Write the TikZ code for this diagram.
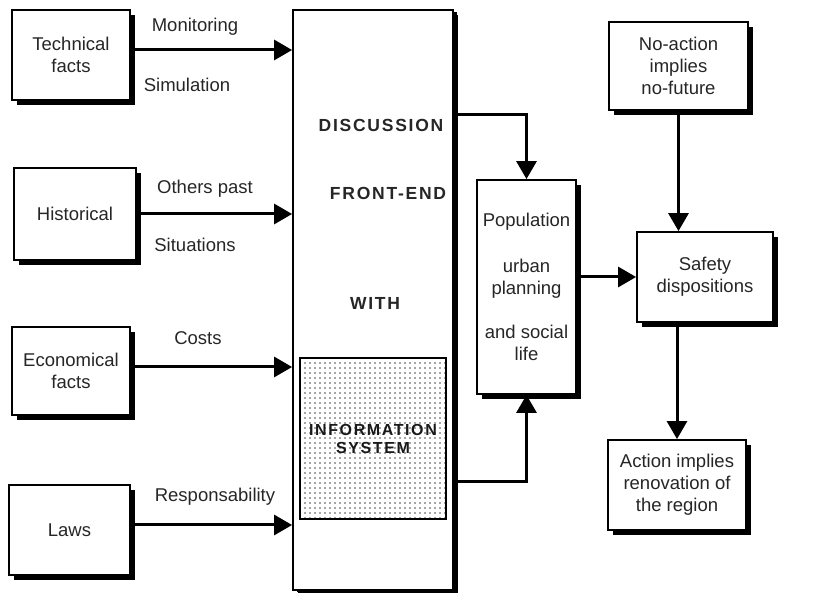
\documentclass[tikz,border=0pt]{standalone}
\usepackage{fontspec}
\setmainfont{Liberation Sans}
\newfontfamily\spacedfont[LetterSpace=10]{Liberation Sans}
\usetikzlibrary{arrows.meta,shadows,patterns.meta}
\tikzstyle{box}=[draw, line width=1.8pt, fill=white, align=center, inner sep=0pt,
  drop shadow={shadow xshift=5pt, shadow yshift=-5pt, fill=black, opacity=1}]
\tikzstyle{arr}=[line width=3pt, -{Triangle[length=18pt, width=20pt]}]
\tikzstyle{lbl}=[inner sep=0pt]
\tikzstyle{caps}=[font=\spacedfont\bfseries\fontsize{17.5}{21}\selectfont, inner sep=0pt]

\begin{document}
\begin{tikzpicture}[x=1pt, y=-1pt, font=\fontsize{18.5}{22}\selectfont, text=black!85]
\useasboundingbox (0,0) rectangle (815,593);
% Sources
    \node[box, minimum width=118pt, minimum height=90pt] (tech) at (71,55) {Technical\\facts};
    \node[box, minimum width=122pt, minimum height=92pt] (hist) at (75,214) {Historical};
    \node[box, minimum width=118pt, minimum height=88pt] (econ) at (71,371) {Economical\\facts};
    \node[box, minimum width=121pt, minimum height=90pt] (laws) at (69.5,530) {Laws};
% Front-end
    \node[box, minimum width=160pt, minimum height=580pt,
      drop shadow={shadow xshift=4pt, shadow yshift=-2pt, fill=black, opacity=1}] (front) at (373,300) {};
    \node[caps] (discussion) at (381,125) {DISCUSSION};
    \node[caps] (frontend) at (388,193) {FRONT-END};
    \node[caps] (with) at (375,303) {WITH};
    \node[draw, line width=1.8pt, pattern={Dots[distance=5pt, radius=0.8pt]}, pattern color=black!70,
      minimum width=146pt, minimum height=161pt, align=center, inner sep=0pt, text=black!90,
      font=\spacedfont\bfseries\fontsize{16}{18}\selectfont] (info) at (373,438.5) {INFORMATION\\SYSTEM};
% Results
    \node[box, minimum width=99pt, minimum height=214pt] (popu) at (526.5,287)
      {Population\\[24pt]urban\\planning\\[22pt]and social\\life};
    \node[box, minimum width=139pt, minimum height=88pt] (noact) at (678.5,66) {No-action\\implies\\no-future};
    \node[box, minimum width=136pt, minimum height=90pt] (safety) at (705,277) {Safety\\dispositions};
    \node[box, minimum width=138pt, minimum height=90pt] (action) at (677,485) {Action implies\\renovation of\\the region};
% Inputs
    \draw[arr] ([yshift=5pt]tech.east) -- ([yshift=5pt]tech.east -| front.west);
    \draw[arr] (hist.east) -- (hist.east -| front.west);
    \draw[arr] ([yshift=4pt]econ.east) -- ([yshift=4pt]econ.east -| front.west);
    \draw[arr] ([yshift=5pt]laws.east) -- ([yshift=5pt]laws.east -| front.west);
    \node[lbl] (monitoring) at (195,27) {Monitoring};
    \node[lbl] (simulation) at (187,85) {Simulation};
    \node[lbl] (otherspast) at (205,189) {Others past};
    \node[lbl] (situations) at (195,245) {Situations};
    \node[lbl] (costs) at (198,338) {Costs};
    \node[lbl] (respons) at (215,497) {Responsability};
% Outputs
    \draw[arr] ([yshift=185pt]front.east) -| (popu.north);
    \draw[arr] ([yshift=-182pt]front.east) -| (popu.south);
    \draw[arr] (popu.east |- safety.west) -- (safety.west);
    \draw[arr] (noact.south) -- (noact.south |- safety.north);
    \draw[arr] (action.north |- safety.south) -- (action.north);
\end{tikzpicture}
\end{document}
